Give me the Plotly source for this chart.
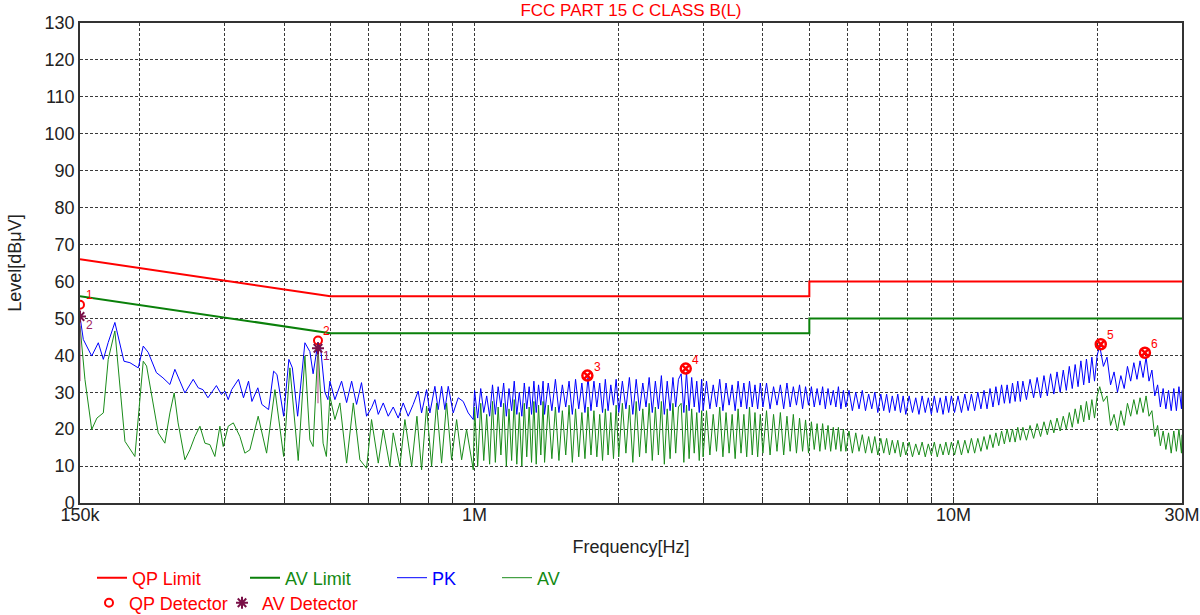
import numpy as np
import plotly.graph_objects as go

TITLE = "FCC PART 15 C CLASS B(L)"
X_TITLE = "Frequency[Hz]"
Y_TITLE = "Level[dBμV]"

# ---- limit lines (frequency in MHz, level in dBuV)
qp_limit_f = [0.15, 0.5, 5.0, 5.0, 30.0]
qp_limit_l = [66, 56, 56, 60, 60]
av_limit_f = [0.15, 0.5, 5.0, 5.0, 30.0]
av_limit_l = [56, 46, 46, 50, 50]

# ---- PK trace, 150 kHz - 1 MHz (MHz, dBuV)
pk_lo_f = [0.150, 0.1524, 0.1587, 0.1638, 0.1678, 0.1718, 0.1774, 0.1853, 0.1907, 0.1985,
           0.2033, 0.2082, 0.2166, 0.2235, 0.2311, 0.2367, 0.2425, 0.2484, 0.2585, 0.2648,
           0.2709, 0.2775, 0.2890, 0.2960, 0.3011, 0.3059, 0.3110, 0.3214, 0.3292, 0.3373,
           0.3428, 0.3527, 0.3596, 0.3714, 0.3805, 0.3867, 0.3993, 0.4095, 0.4164, 0.4271,
           0.4423, 0.4530, 0.4601, 0.4710, 0.4770, 0.4869, 0.4940, 0.4988, 0.5109, 0.5276,
           0.5405, 0.5537, 0.5670, 0.5806, 0.5949, 0.6093, 0.6192, 0.6293, 0.6446, 0.6602,
           0.6763, 0.6927, 0.7096, 0.7268, 0.7445, 0.7626, 0.7751, 0.7939, 0.8066, 0.8263,
           0.8396, 0.8533, 0.8670, 0.8810, 0.9024, 0.9244, 0.9469, 0.9699, 0.9936]
pk_lo_l = [50.5, 44.3, 39.8, 43.4, 38.9, 43.5, 48.9, 38.4, 38.0, 36.6,
           42.5, 40.8, 35.3, 33.9, 32.1, 36.2, 33.0, 29.8, 33.5, 31.2,
           30.7, 28.5, 31.8, 29.4, 30.3, 28.0, 30.7, 33.5, 28.5, 33.0,
           27.5, 31.2, 26.7, 25.3, 35.7, 34.8, 23.5, 38.9, 36.6, 23.5,
           43.4, 41.0, 35.0, 43.5, 42.0, 30.0, 28.0, 33.0, 28.0, 33.0,
           27.2, 33.0, 26.7, 32.6, 23.5, 25.8, 28.0, 24.0, 27.1, 23.5,
           26.0, 23.0, 27.1, 23.5, 26.7, 30.3, 24.4, 30.7, 24.4, 31.6,
           25.3, 31.6, 25.3, 31.6, 24.4, 28.5, 27.5, 24.4, 22.6]

# ---- AV trace, 150 kHz - 1 MHz (MHz, dBuV)
av_lo_f = [0.150, 0.1536, 0.1587, 0.1627, 0.1678, 0.1718, 0.1774, 0.1862, 0.1953, 0.2033,
           0.2066, 0.2150, 0.2185, 0.2256, 0.2311, 0.2359, 0.2404, 0.2484, 0.2544, 0.2606,
           0.2670, 0.2735, 0.2801, 0.2869, 0.2939, 0.2986, 0.3059, 0.3135, 0.3236, 0.3314,
           0.3395, 0.3533, 0.3679, 0.3829, 0.3993, 0.4115, 0.4283, 0.4423, 0.4530, 0.4601,
           0.4710, 0.4827, 0.4904, 0.4988, 0.5109, 0.5233, 0.5405, 0.5582, 0.5761, 0.5949,
           0.6093, 0.6293, 0.6446, 0.6655, 0.6763, 0.6983, 0.7153, 0.7390, 0.7579, 0.7751,
           0.7939, 0.8133, 0.8330, 0.8533, 0.8741, 0.8953, 0.9172, 0.9396, 0.9623, 0.9936]
av_lo_l = [48.0, 33.5, 19.9, 23.0, 24.4, 38.9, 46.6, 16.7, 12.6, 38.4,
           37.1, 24.4, 19.0, 16.2, 24.4, 29.8, 21.7, 11.7, 14.4, 18.0,
           20.8, 16.2, 15.8, 12.6, 20.8, 15.3, 20.8, 21.7, 18.0, 13.5,
           14.4, 23.5, 13.5, 30.7, 12.6, 36.6, 11.5, 39.8, 17.1, 15.3,
           42.5, 16.2, 12.6, 28.9, 22.6, 27.1, 10.8, 27.1, 11.7, 9.4,
           22.6, 10.8, 19.9, 9.9, 19.0, 9.9, 22.6, 9.9, 23.5, 9.0,
           26.2, 9.9, 27.1, 10.8, 27.1, 11.7, 22.6, 11.7, 19.9, 9.0]

# ---- dense sweep 1 MHz - 30 MHz: shared frequencies (MHz), PK and AV levels (dBuV)
hi_f = [
    # 1.0 - 1.4 MHz
    1.000, 1.015, 1.030, 1.045, 1.060, 1.075, 1.090, 1.105, 1.120, 1.135,
    1.150, 1.165, 1.180, 1.195, 1.210, 1.225, 1.240, 1.255, 1.270, 1.285,
    1.300, 1.315, 1.330, 1.345, 1.360, 1.375, 1.390,
    # 1.4 - 2.0 MHz
    1.400, 1.425, 1.450, 1.475, 1.500, 1.525, 1.550, 1.575, 1.600, 1.625,
    1.650, 1.675, 1.700, 1.725, 1.750, 1.775, 1.800, 1.825, 1.850, 1.875,
    1.900, 1.925, 1.950, 1.975,
    # 2 - 3 MHz
    2.000, 2.035, 2.070, 2.105, 2.140, 2.175, 2.210, 2.245, 2.280, 2.315,
    2.350, 2.385, 2.420, 2.455, 2.490, 2.525, 2.560, 2.595, 2.630, 2.665,
    2.700, 2.735, 2.770, 2.805, 2.840, 2.875, 2.910, 2.945, 2.980,
    # 3 - 4 MHz
    3.00, 3.05, 3.10, 3.15, 3.20, 3.25, 3.30, 3.35, 3.40, 3.45,
    3.50, 3.55, 3.60, 3.65, 3.70, 3.75, 3.80, 3.85, 3.90, 3.95,
    # 4 - 6 MHz
    4.00, 4.07, 4.14, 4.21, 4.28, 4.35, 4.42, 4.49, 4.56, 4.63,
    4.70, 4.77, 4.84, 4.91, 4.98, 5.05, 5.12, 5.19, 5.26, 5.33,
    5.40, 5.47, 5.54, 5.61, 5.68, 5.75, 5.82, 5.89, 5.96,
    # 6 - 8 MHz
    6.05, 6.15, 6.25, 6.35, 6.45, 6.55, 6.65, 6.75, 6.85, 6.95,
    7.05, 7.15, 7.25, 7.35, 7.45, 7.55, 7.65, 7.75, 7.85, 7.95,
    # 8 - 10 MHz
    8.08, 8.21, 8.34, 8.47, 8.60, 8.73, 8.86, 8.99, 9.12, 9.25,
    9.38, 9.51, 9.64, 9.77, 9.90,
    # 10 - 14 MHz
    10.05, 10.22, 10.39, 10.56, 10.73, 10.90, 11.07, 11.24, 11.41, 11.58,
    11.75, 11.92, 12.09, 12.26, 12.43, 12.60, 12.77, 12.94, 13.11, 13.28,
    13.45, 13.62, 13.79, 13.96,
    # 14 - 20 MHz
    14.20, 14.45, 14.70, 14.95, 15.20, 15.45, 15.70, 15.95, 16.20, 16.45,
    16.70, 16.95, 17.20, 17.45, 17.70, 17.95, 18.20, 18.45, 18.70, 18.95,
    19.20, 19.45, 19.70, 19.95,
    # 20 - 30 MHz
    20.20, 20.56, 20.92, 21.28, 21.64, 22.00, 22.36, 22.72, 23.08, 23.44,
    23.80, 24.16, 24.52, 24.88, 25.24, 25.60, 25.96, 26.32, 26.68, 27.04,
    27.40, 27.76, 28.12, 28.48, 28.84, 29.20, 29.56, 29.92, 30.00,
]
pk_hi_l = [
    30.5, 23, 31, 24.5, 29, 23.5, 32, 24, 31.5, 26,
    32.5, 23.5, 31, 25, 33, 24, 30, 23.5, 32.5, 25.5,
    31.5, 24, 33, 24.5, 32, 26.5, 33,
    24, 32.5, 25, 33.5, 24.5, 32, 26, 33, 24, 33.5,
    25.5, 32.5, 24.5, 34, 25, 33, 26, 32.5, 24.5, 33.5,
    25, 32, 26.5, 33.5,
    24.5, 33, 25.5, 34, 24, 33.5, 25, 32.5, 26, 34,
    24.5, 33, 25.5, 34.5, 24, 33, 25, 34, 26, 33.5,
    35, 24.5, 35.5, 25, 34, 26, 33, 24.5, 33.5,
    25, 33, 25.5, 32, 26, 33.5, 25, 32.5, 26.5, 32,
    25, 33, 26, 32.5, 25.5, 33, 26, 32, 25.5, 32.5,
    26, 32.5, 25.5, 31.5, 26.5, 32, 25.5, 32.5, 26, 31.5,
    26.5, 32, 25.5, 31.5, 26.5, 31.5, 26, 31, 26.5, 31.5,
    25.5, 31, 26.5, 30.5, 26, 31.5, 25.5, 30.5, 26,
    30.5, 25, 30, 25.5, 30.5, 25, 29.5, 25.5, 30, 24.5,
    29.5, 25, 29.5, 24.5, 29, 25, 29.5, 24.5, 29, 24,
    29, 24.5, 28.5, 24, 29, 24.5, 28.5, 24, 29, 24.5,
    28.5, 24, 29, 24.5, 29,
    24.5, 29, 24.5, 29.5, 25, 29.5, 25, 30, 25.5, 30.5,
    25.5, 31, 26, 31.5, 26.5, 32, 27, 32, 27, 32.5,
    27.5, 33, 27.5, 33,
    28, 33.5, 28.5, 34, 28.5, 34.5, 29, 35, 29.5, 35.5,
    30, 36, 30.5, 37, 31, 37.5, 31.5, 38.5, 32, 39,
    32.5, 39.5, 33, 40,
    42.5, 37, 39.5, 32, 35.5, 30, 34.5, 31, 37, 33,
    38, 33.5, 38.5, 34, 39.5, 33, 36, 29, 32, 26,
    31, 25.5, 30.5, 25, 31, 25, 31.5, 25.5, 30.5,
]
av_hi_l = [
    26, 10, 27, 11.5, 24, 10.5, 27.5, 11, 26, 13,
    27, 10, 25.5, 11.5, 28, 10.5, 24.5, 10, 27, 12.5,
    26, 11, 27.5, 10.5, 26.5, 13, 27.5,
    11, 26.5, 12, 26, 11.5, 25, 13, 26.5, 11, 25.5,
    12.5, 24.5, 12, 26, 13, 25, 12.5, 24, 11.5, 25.5,
    13, 24.5, 12, 26.5,
    12.5, 27, 13.5, 26.5, 11, 27.5, 12.5, 25.5, 13.5, 27,
    11.5, 26, 13, 27.5, 10.5, 25.5, 12, 27, 13.5, 26,
    27, 11, 26.5, 12, 25.5, 13.5, 24.5, 11.5, 25,
    12.5, 25, 13, 24, 14, 26, 12.5, 24.5, 13.5, 24,
    12, 25.5, 13.5, 24, 12.5, 26, 13, 24.5, 12.5, 24,
    13.5, 25, 13, 24, 14, 24.5, 13, 23.5, 14, 24,
    13.5, 23, 14, 22.5, 13.5, 22, 14.5, 21.5, 14, 21.5,
    14.5, 21, 14, 20.5, 14.5, 20.5, 14, 20, 14,
    19.5, 13.5, 19, 14, 18.5, 13.5, 18, 13.5, 18, 13,
    17.5, 13.5, 17.5, 13, 17, 13.5, 17, 12.5, 16.5, 13,
    16.5, 12.5, 16, 13, 16.5, 12.5, 16, 13, 16.5, 12.5,
    16, 13, 16.5, 13, 16.5,
    13, 17, 13, 17, 13.5, 17.5, 13.5, 17.5, 14, 18,
    14.5, 18.5, 15, 19, 15.5, 19.5, 16, 20, 16.5, 20,
    16.5, 20.5, 17, 20.5,
    17, 21, 17.5, 21.5, 18, 22, 18.5, 22.5, 19, 23,
    19.5, 23.5, 20, 24.5, 20.5, 25.5, 21.5, 26.5, 22, 27.5,
    22.5, 28, 23, 29,
    31.5, 27.5, 29, 21, 24, 19.5, 25, 21, 27, 23.5,
    28, 24, 28.5, 24.5, 29, 23.5, 25, 18, 21, 15.5,
    19.5, 14.5, 19, 13.5, 19.5, 14, 20, 13.5, 18.5,
]

# ---- detector results / peak markers
qp_det_f = [0.150, 0.471]
qp_det_l = [53.7, 44.0]
qp_det_lab = ["1", "2"]
av_det_f = [0.150, 0.471]
av_det_l = [50.5, 41.9]
av_det_lab = ["2", "1"]
av_stem_bottom = [33.0, 27.0]
peak_f = [1.72, 2.76, 20.3, 25.1]
peak_l = [34.5, 36.4, 43.0, 40.7]
peak_lab = ["3", "4", "5", "6"]

# ---- axis ticks
x_tick_vals = [0.15, 1.0, 10.0, 30.0]
x_tick_text = ["150k", "1M", "10M", "30M"]
x_minor_vals = [0.2, 0.3, 0.4, 0.5, 0.6, 0.7, 0.8, 0.9,
                2, 3, 4, 5, 6, 7, 8, 9, 20]

MHZ = 1e6
def hz(lst):
    return [v * MHZ if v is not None else None for v in lst]

FONT = "Liberation Sans, Arial, sans-serif"
RED = "#ff0000"
GREEN = "#138a13"
BLUE = "#0000ff"
PURPLE = "#7a1048"
FS = 18

n = min(len(hi_f), len(pk_hi_l), len(av_hi_l))
pk_f = pk_lo_f + hi_f[:n]
pk_l = pk_lo_l + pk_hi_l[:n]
av_f = av_lo_f + hi_f[:n]
av_l = av_lo_l + av_hi_l[:n]

fig = go.Figure()

def span(txt, col):
    return f'<span style="color:{col}">{txt}</span>'

fig.add_trace(go.Scatter(x=hz(pk_f), y=pk_l, mode="lines", name=span("PK", BLUE),
                         line=dict(color=BLUE, width=1), legend="legend3"))
fig.add_trace(go.Scatter(x=hz(av_f), y=av_l, mode="lines", name=span("AV", GREEN),
                         line=dict(color="#1a8c1a", width=1), legend="legend4"))
fig.add_trace(go.Scatter(x=hz(qp_limit_f), y=qp_limit_l, mode="lines", name=span("QP Limit", RED),
                         line=dict(color=RED, width=2), legend="legend"))
fig.add_trace(go.Scatter(x=hz(av_limit_f), y=av_limit_l, mode="lines", name=span("AV Limit", GREEN),
                         line=dict(color="#0a800a", width=2), legend="legend2"))

# stems under AV detector points
stem_x, stem_y = [], []
for f, top, bot in zip(av_det_f, av_det_l, av_stem_bottom):
    stem_x += [f, f, None]
    stem_y += [top, bot, None]
fig.add_trace(go.Scatter(x=hz(stem_x), y=stem_y, mode="lines", showlegend=False,
                         line=dict(color="#b04080", width=1)))

fig.add_trace(go.Scatter(x=hz(qp_det_f), y=qp_det_l, mode="markers", name=span("QP Detector", RED),
                         marker=dict(symbol="circle-open", size=8, color=RED, line=dict(width=2)),
                         legend="legend5"))
fig.add_trace(go.Scatter(x=hz(av_det_f), y=av_det_l, mode="markers", name=span("AV Detector", RED),
                         marker=dict(symbol="asterisk-open", size=10, color=PURPLE,
                                     line=dict(width=2, color=PURPLE)),
                         legend="legend6"))
fig.add_trace(go.Scatter(x=hz(peak_f), y=peak_l, mode="markers", showlegend=False,
                         marker=dict(symbol="circle-x-open", size=10, color=RED,
                                     line=dict(width=2.5, color=RED))))

annotations = []
def add_labels(fs, ls, labs, col, dx, dy):
    for f, l, t in zip(fs, ls, labs):
        annotations.append(dict(x=np.log10(f * MHZ), y=l, xref="x", yref="y", text=t,
                                showarrow=False, xshift=dx, yshift=dy,
                                font=dict(family=FONT, size=12, color=col)))
add_labels(qp_det_f, qp_det_l, qp_det_lab, RED, 9, 10)
add_labels(av_det_f, av_det_l, av_det_lab, "#a02060", 9, -8)
add_labels(peak_f, peak_l, peak_lab, RED, 10, 9)

grid = dict(gridcolor="#3a3a3a", gridwidth=1, griddash="3px,2px")

fig.update_layout(
    width=1200, height=615,
    paper_bgcolor="white", plot_bgcolor="white",
    margin=dict(l=80, r=18, t=23, b=112, autoexpand=False),
    font=dict(family=FONT, size=FS, color="#222"),
    title=dict(text=TITLE, x=0.5, xref="paper", xanchor="center",
               y=1 - 4 / 615, yref="container", yanchor="top",
               pad=dict(t=0, b=0, l=0, r=0),
               font=dict(family=FONT, size=17, color=RED)),
    annotations=annotations,
    xaxis=dict(type="log", range=[np.log10(0.15 * MHZ), np.log10(30 * MHZ)],
               automargin=False,
               tickmode="array", tickvals=hz(x_tick_vals), ticktext=x_tick_text,
               showgrid=True, **grid, ticks="inside", ticklen=6, tickcolor="#333",
               ticklabelstandoff=-5,
               minor=dict(tickmode="array", tickvals=hz(x_minor_vals), showgrid=True,
                          gridcolor="#3a3a3a", griddash="3px,2px", ticks="inside", ticklen=6,
                          tickcolor="#333"),
               showline=True, linecolor="#333", linewidth=1.5, mirror=True,
               zeroline=False, tickfont=dict(size=FS, color="#222"),
               title=dict(text=X_TITLE, standoff=16, font=dict(size=FS))),
    yaxis=dict(range=[0, 130], dtick=10, tick0=0, showgrid=True, **grid,
               automargin=False,
               showline=True, linecolor="#333", linewidth=1.5, mirror=True,
               zeroline=False, ticks="", tickfont=dict(size=FS, color="#222"),
               ticklabelstandoff=0,
               title=dict(text=Y_TITLE, standoff=18, font=dict(size=FS))),
)

leg_common = dict(orientation="h", xanchor="left", yanchor="middle", bgcolor="rgba(0,0,0,0)",
                  font=dict(family=FONT, size=FS), itemwidth=30)
def px_x(px):
    return (px - 80) / 1102
def px_y(py):
    return (503 - py) / 480
fig.update_layout(
    legend=dict(x=px_x(92), y=px_y(578), **leg_common),
    legend2=dict(x=px_x(245), y=px_y(578), **leg_common),
    legend3=dict(x=px_x(392), y=px_y(578), **leg_common),
    legend4=dict(x=px_x(497), y=px_y(578), **leg_common),
    legend5=dict(x=px_x(89), y=px_y(603), **leg_common),
    legend6=dict(x=px_x(222), y=px_y(603), **leg_common),
)

fig.write_html("out.html", config={"displayModeBar": False},
               post_script="document.body.style.margin='0px';document.body.style.overflow='hidden';")
